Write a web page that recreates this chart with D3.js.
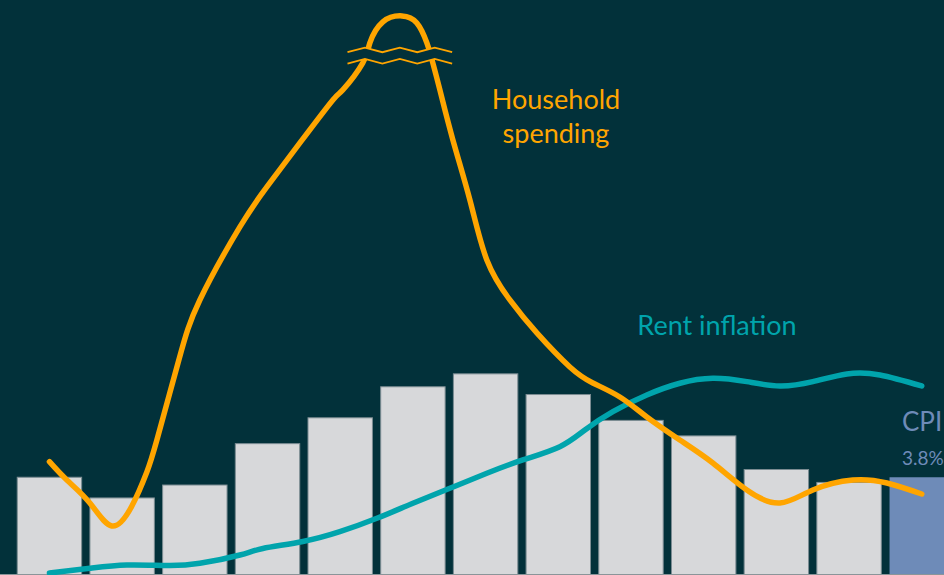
<!DOCTYPE html>
<html><head><meta charset="utf-8">
<script src="https://cdn.jsdelivr.net/npm/d3@7"></script>
<style>html,body{margin:0;padding:0;background:#02313a;overflow:hidden}svg{display:block}</style>
</head><body><svg id="c" width="944" height="575"></svg>
<script>
// ---- data ----
const categories = ["P1","P2","P3","P4","P5","P6","P7","P8","P9","P10","P11","P12","CPI"];
const barValues = [3.8, 3.0, 3.5, 5.1, 6.1, 7.3, 7.8, 7.0, 6.0, 5.4, 4.1, 3.6, 3.8];
const cpiLabel = "CPI";
const cpiValueLabel = "3.8%";

// Household spending line (x in category index units, y in value units)
const spendingX = [0, 0.239, 0.556, 0.858, 1.134, 1.34, 1.478, 1.78, 2.069, 2.62, 2.991, 3.445, 3.899, 4.036, 4.311, 4.408, 4.587, 4.848, 5.054, 5.192, 5.274, 5.371, 5.55, 5.784, 6.017, 6.334, 6.705, 7.159, 7.475, 7.847, 8.218, 8.672, 9.126, 9.594, 10.048, 10.502, 11.052, 11.52, 12.0];
const spendingY = [4.383, 3.675, 2.785, 1.896, 2.669, 3.985, 5.222, 8.317, 10.638, 13.462, 15.01, 16.712, 18.375, 18.762, 19.807, 20.58, 21.393, 21.625, 21.354, 20.58, 19.807, 18.762, 16.828, 14.507, 12.186, 10.638, 9.362, 8.046, 7.427, 6.886, 6.112, 5.222, 4.333, 3.288, 2.785, 3.288, 3.675, 3.559, 3.133];

// Rent inflation line
const rentX = [0, 0.556, 1.065, 1.615, 2.069, 2.62, 2.936, 3.486, 3.995, 4.504, 5.0, 5.508, 6.017, 6.512, 7.021, 7.366, 7.751, 8.218, 8.672, 9.126, 9.594, 10.048, 10.502, 10.97, 11.424, 12.0];
const rentY = [0.077, 0.259, 0.387, 0.368, 0.453, 0.774, 1.025, 1.296, 1.675, 2.193, 2.774, 3.354, 3.934, 4.449, 4.963, 5.609, 6.317, 6.963, 7.416, 7.609, 7.478, 7.311, 7.478, 7.776, 7.737, 7.311];

// axis break on the spending line
const breakRange = [4.1, 5.54];
const breakValues = [20.31, 19.87];

const seriesLabels = ["Household spending", "Rent inflation"];

// ---- chart ----
const W = 944, H = 575;
const BG = "#02313a";
const svg = d3.select("#c");
svg.append("rect").attr("width", W).attr("height", H).attr("fill", BG);

const x = d3.scaleBand().domain(categories).range([13.1, 958.1]).paddingInner(0.1).paddingOuter(0.05);
const y = d3.scaleLinear().domain([0, 22.24]).range([575, 0]);
const xl = d3.scaleLinear().domain([0, 12])
  .range([x(categories[0]) + x.bandwidth() / 2, x(categories[12]) + x.bandwidth() / 2]);

svg.append("g").selectAll("rect").data(barValues).join("rect")
  .attr("x", (d, i) => x(categories[i]) + 0.5)
  .attr("y", d => y(d) + 0.5)
  .attr("width", x.bandwidth() - 1)
  .attr("height", d => y(0) - y(d))
  .attr("fill", (d, i) => i === 12 ? "#6e8bb8" : "#d7d8da")
  .attr("stroke", (d, i) => i === 12 ? "none" : "#7b8c92")
  .attr("stroke-width", 1);

// baseline
svg.append("line").attr("x1", 0).attr("x2", W).attr("y1", 574.5).attr("y2", 574.5)
  .attr("stroke", "#8a9599").attr("stroke-width", 1.2);

const line = d3.line().x(d => xl(d[0])).y(d => y(d[1])).curve(d3.curveNatural);

svg.append("path").datum(rentX.map((v, i) => [v, rentY[i]]))
  .attr("d", line).attr("fill", "none").attr("stroke", "#00a4ac")
  .attr("stroke-width", 5.5).attr("stroke-linecap", "round");

svg.append("path").datum(spendingX.map((v, i) => [v, spendingY[i]]))
  .attr("d", line).attr("fill", "none").attr("stroke", "#ffa500")
  .attr("stroke-width", 5.5).attr("stroke-linecap", "round");

// break marks
const nZig = 6;
const zig = (val) => d3.range(nZig + 1).map(i => {
  const xv = breakRange[0] + (breakRange[1] - breakRange[0]) * i / nZig;
  return [xl(xv), y(val) + (i % 2 === 0 ? 2.3 : -2.3)];
});
const up = zig(breakValues[0]), lo = zig(breakValues[1]);
svg.append("path").attr("d", "M" + up.map(p => p.join(",")).join("L") + "L" + lo.slice().reverse().map(p => p.join(",")).join("L") + "Z")
  .attr("fill", BG);
[up, lo].forEach(pts => svg.append("path").attr("d", d3.line()(pts))
  .attr("fill", "none").attr("stroke", "#ffa500").attr("stroke-width", 1.8));

// labels
const font = "Lato, 'Open Sans', sans-serif";
const hs = svg.append("text").attr("x", 556).attr("y", 109).attr("text-anchor", "middle")
  .attr("font-family", font).attr("font-size", 27).attr("fill", "#ffa500");
hs.append("tspan").attr("x", 556).text("Household");
hs.append("tspan").attr("x", 556).attr("dy", 34).text("spending");

svg.append("text").attr("x", 717).attr("y", 335).attr("text-anchor", "middle")
  .attr("font-family", font).attr("font-size", 27).attr("fill", "#00a4ac").text(seriesLabels[1]);

svg.append("text").attr("x", 902).attr("y", 431)
  .attr("font-family", font).attr("font-size", 26).attr("fill", "#6e8bb8").text(cpiLabel);
svg.append("text").attr("x", 902).attr("y", 465)
  .attr("font-family", font).attr("font-size", 19).attr("fill", "#6e8bb8").text(cpiValueLabel);
</script></body></html>
